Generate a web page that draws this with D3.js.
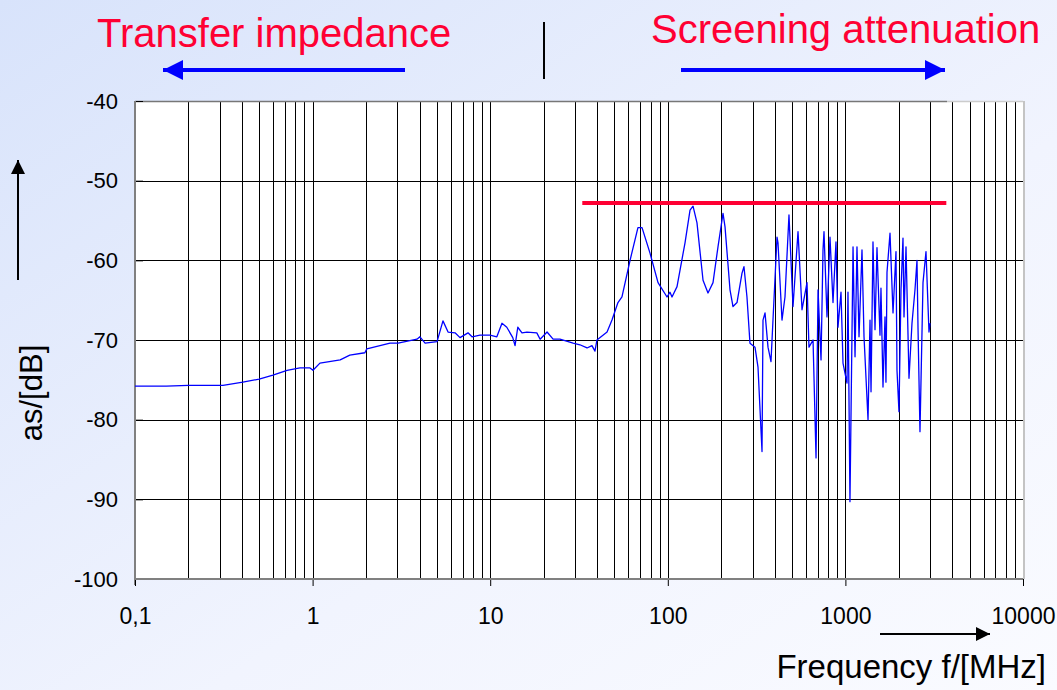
<!DOCTYPE html>
<html>
<head>
<meta charset="utf-8">
<script src="https://cdn.jsdelivr.net/npm/d3@7"></script>
<style>
  body { margin: 0; }
  svg { display: block; font-family: Arial, "Liberation Sans", sans-serif; }
</style>
</head>
<body>
<svg width="1057" height="690"></svg>
<script>
// measured curve: frequency in MHz, attenuation in dB
var freqMHz = [0.1, 0.15, 0.2, 0.25, 0.313, 0.405, 0.5, 0.598, 0.718, 0.849, 0.967, 1.005, 1.10, 1.43, 1.62,
  1.97, 2.02, 2.73, 3.03, 3.87, 4.02, 4.30, 5.02, 5.42, 5.79, 6.34, 6.76, 7.50, 7.90, 8.76, 9.97,
  10.9, 11.65, 12.4, 13.4, 13.8, 14.3, 15.1, 16.1, 18.3, 19.1, 20.9, 22.6, 24.7, 29.3, 32.0, 35.1,
  37.4, 38.9, 39.9, 45.5, 48.5, 52.4, 55.2, 61.3, 67.9, 71.6, 79.4, 88.1, 99.0, 102.9, 105.6, 112.7,
  125.0, 133.4, 138.7, 146.0, 157.9, 168.4, 179.7, 191.7, 204.6, 210.0, 224.0, 232.9, 245.3, 261.7,
  268.5, 279.1, 290.2, 309.7, 322.0, 339.2, 343.6, 352.7, 366.6, 381.1, 391.1, 412.0, 417.4, 439.5,
  456.9, 481.2, 507.0, 541.0, 569.8, 607.9, 623.7, 657.3, 683.4, 701.3, 729.1, 748.0, 757.8, 787.8,
  819.0, 851.5, 885.1, 908.4, 944.5, 969.3, 1021, 1034, 1061, 1104, 1133, 1162, 1193, 1240, 1273,
  1341, 1376, 1394, 1430, 1468, 1506, 1566, 1586, 1628, 1671, 1692, 1715, 1783, 1854, 1927, 1952,
  2003, 2056, 2110, 2138, 2194, 2281, 2371, 2465, 2530, 2563, 2630, 2735, 2843, 2956, 2995];
var attenuationDb = [-75.8, -75.8, -75.7, -75.7, -75.7, -75.3, -74.9, -74.4, -73.8, -73.5, -73.5, -73.8, -72.9, -72.5, -71.9,
  -71.6, -71.1, -70.4, -70.4, -69.9, -69.6, -70.4, -70.2, -67.6, -69.0, -69.1, -69.7, -69.1, -69.6, -69.4, -69.4,
  -69.6, -67.9, -68.4, -69.7, -70.7, -68.4, -69.1, -69.0, -69.1, -69.9, -69.0, -69.9, -69.9, -70.4, -70.6, -71.0,
  -70.7, -71.4, -70.0, -69.0, -67.5, -65.3, -64.6, -60.0, -55.9, -55.9, -59.1, -62.8, -64.6, -64.0, -64.6, -63.3,
  -57.8, -53.7, -53.2, -55.3, -62.5, -64.1, -62.8, -58.3, -54.1, -55.8, -63.7, -65.8, -65.3, -61.6,
  -60.8, -64.6, -70.4, -70.9, -73.4, -84.0, -67.5, -66.6, -70.9, -72.7, -67.5, -57.1, -57.8, -67.5,
  -64.6, -54.3, -65.8, -56.4, -66.2, -62.8, -70.9, -70.0, -84.8, -63.7, -72.5, -58.7, -56.4, -67.1,
  -57.1, -65.3, -57.7, -68.4, -64.0, -72.9, -75.4, -64.0, -90.3, -58.3, -72.1, -58.3, -69.6, -58.7, -69.6,
  -80.0, -67.5, -76.5, -57.7, -68.7, -58.4, -69.4, -63.5, -75.9, -67.1, -75.3, -61.5, -56.6, -66.6, -58.9,
  -73.8, -79.0, -63.7, -57.2, -67.1, -58.3, -74.8, -67.9, -63.7, -60.0, -68.4, -81.5, -62.8, -58.9, -69.0, -67.9];

// limit line (red)
var limitFromMHz = 33;
var limitToMHz = 3700;
var limitDb = -52.8;

var yTicks = [-100, -90, -80, -70, -60, -50, -40];
var xDecades = [0.1, 1, 10, 100, 1000, 10000];
var xDecadeLabels = ["0,1", "1", "10", "100", "1000", "10000"];

var svg = d3.select("svg");
var plotLeft = 135, plotRight = 1023, plotTop = 101, plotBottom = 579;

var x = d3.scaleLog().domain([0.1, 10000]).range([plotLeft, plotRight]);
var y = d3.scaleLinear().domain([-100, -40]).range([plotBottom, plotTop]);

// background gradient
var defs = svg.append("defs");
var grad = defs.append("linearGradient").attr("id", "bg")
    .attr("x1", "0").attr("y1", "0").attr("x2", "1").attr("y2", "1");
grad.append("stop").attr("offset", "0").attr("stop-color", "#d8e3fb");
grad.append("stop").attr("offset", "0.6").attr("stop-color", "#f1f4fe");
grad.append("stop").attr("offset", "1").attr("stop-color", "#fafbff");
defs.append("marker").attr("id", "headBlue")
    .attr("viewBox", "0 0 10 10").attr("refX", 10).attr("refY", 5)
    .attr("markerWidth", 5).attr("markerHeight", 5).attr("markerUnits", "strokeWidth")
    .attr("orient", "auto")
  .append("path").attr("d", "M0,0L10,5L0,10Z").attr("fill", "#0000ff");
defs.append("marker").attr("id", "headBlack")
    .attr("viewBox", "0 0 10 10").attr("refX", 10).attr("refY", 5)
    .attr("markerWidth", 8).attr("markerHeight", 7).attr("markerUnits", "strokeWidth")
    .attr("orient", "auto")
  .append("path").attr("d", "M0,0L10,5L0,10Z").attr("fill", "#000");

svg.append("rect").attr("width", 1057).attr("height", 690).attr("fill", "url(#bg)");
svg.append("rect").attr("x", plotLeft).attr("y", plotTop)
    .attr("width", plotRight - plotLeft).attr("height", plotBottom - plotTop).attr("fill", "#fff");

// grid: every 1..9 per decade
var minor = [];
for (var d = 0.1; d < 10000; d *= 10) {
  for (var k = 1; k <= 9; k++) minor.push(+(d * k).toPrecision(3));
}
minor.push(10000);
svg.append("g").selectAll("line").data(minor).enter().append("line")
    .attr("x1", function(f){ return Math.round(x(f)) + 0.5; })
    .attr("x2", function(f){ return Math.round(x(f)) + 0.5; })
    .attr("y1", plotTop).attr("y2", plotBottom)
    .attr("stroke", "#000").attr("stroke-width", 1);
svg.append("g").selectAll("line").data(yTicks.slice(1, -1)).enter().append("line")
    .attr("x1", plotLeft).attr("x2", plotRight)
    .attr("y1", function(v){ return Math.round(y(v)) + 0.5; })
    .attr("y2", function(v){ return Math.round(y(v)) + 0.5; })
    .attr("stroke", "#000").attr("stroke-width", 1);

// frame
svg.append("line").attr("x1", plotLeft).attr("x2", 947).attr("y1", plotTop + 0.5).attr("y2", plotTop + 0.5)
    .attr("stroke", "#777").attr("stroke-width", 1.5);
svg.append("line").attr("x1", 947).attr("x2", plotRight).attr("y1", plotTop + 0.5).attr("y2", plotTop + 0.5)
    .attr("stroke", "#ccc").attr("stroke-width", 1.5);
svg.append("line").attr("x1", plotRight + 1).attr("x2", plotRight + 1).attr("y1", plotTop).attr("y2", plotBottom)
    .attr("stroke", "#c4c4c4").attr("stroke-width", 2);

// y axis (plain hyphen, as in the original)
var yAxis = svg.append("g").attr("transform", "translate(" + plotLeft + ",0)")
    .call(d3.axisLeft(y).tickValues(yTicks).tickSize(7).tickPadding(10).tickFormat(function(v){ return String(v); }));
yAxis.select(".domain").remove();
yAxis.selectAll(".tick line").attr("stroke", "#000").attr("x2", 8);
yAxis.selectAll("text").attr("font-size", 22).attr("fill", "#000").attr("font-family", "Arial, 'Liberation Sans'");
svg.append("line").attr("x1", plotLeft).attr("x2", plotLeft).attr("y1", plotTop).attr("y2", plotBottom + 6)
    .attr("stroke", "#808080").attr("stroke-width", 2);

// x axis
var xAxis = svg.append("g").attr("transform", "translate(0," + plotBottom + ")")
    .call(d3.axisBottom(x).tickValues(xDecades).tickSize(7).tickPadding(22)
      .tickFormat(function(d, i){ return xDecadeLabels[i]; }));
xAxis.select(".domain").remove();
xAxis.selectAll(".tick line").attr("stroke", "#000");
xAxis.selectAll("text").attr("font-size", 23).attr("fill", "#000").attr("font-family", "Arial, 'Liberation Sans'");
svg.append("line").attr("x1", plotLeft).attr("x2", plotRight).attr("y1", plotBottom).attr("y2", plotBottom)
    .attr("stroke", "#808080").attr("stroke-width", 2);

// limit line
svg.append("line")
    .attr("x1", x(limitFromMHz)).attr("x2", x(limitToMHz))
    .attr("y1", y(limitDb)).attr("y2", y(limitDb))
    .attr("stroke", "#ff0033").attr("stroke-width", 4);

// curve
var line = d3.line()
    .x(function(d, i){ return x(freqMHz[i]); })
    .y(function(d){ return y(d); });
svg.append("path").datum(attenuationDb)
    .attr("d", line)
    .attr("fill", "none").attr("stroke", "#0000ff").attr("stroke-width", 1.3)
    .attr("stroke-linejoin", "round");

// headings and arrows
svg.append("text").attr("x", 97).attr("y", 47).attr("font-size", 40).attr("fill", "#ff0033")
    .text("Transfer impedance");
svg.append("text").attr("x", 651).attr("y", 43).attr("font-size", 40).attr("fill", "#ff0033")
    .text("Screening attenuation");
svg.append("line").attr("x1", 405).attr("x2", 163).attr("y1", 70).attr("y2", 70)
    .attr("stroke", "#0000ff").attr("stroke-width", 4).attr("marker-end", "url(#headBlue)");
svg.append("line").attr("x1", 681).attr("x2", 945).attr("y1", 70).attr("y2", 70)
    .attr("stroke", "#0000ff").attr("stroke-width", 4).attr("marker-end", "url(#headBlue)");
svg.append("line").attr("x1", 544).attr("x2", 544).attr("y1", 22).attr("y2", 79)
    .attr("stroke", "#000").attr("stroke-width", 2);

// axis titles
svg.append("text").attr("transform", "translate(42,393) rotate(-90)")
    .attr("text-anchor", "middle").attr("font-size", 31).text("as/[dB]");
svg.append("line").attr("x1", 18).attr("x2", 18).attr("y1", 280).attr("y2", 160)
    .attr("stroke", "#000").attr("stroke-width", 2).attr("marker-end", "url(#headBlack)");
svg.append("text").attr("x", 1046).attr("y", 678).attr("text-anchor", "end")
    .attr("font-size", 33).text("Frequency f/[MHz]");
svg.append("line").attr("x1", 880).attr("x2", 990).attr("y1", 634).attr("y2", 634)
    .attr("stroke", "#000").attr("stroke-width", 2).attr("marker-end", "url(#headBlack)");
</script>
</body>
</html>
